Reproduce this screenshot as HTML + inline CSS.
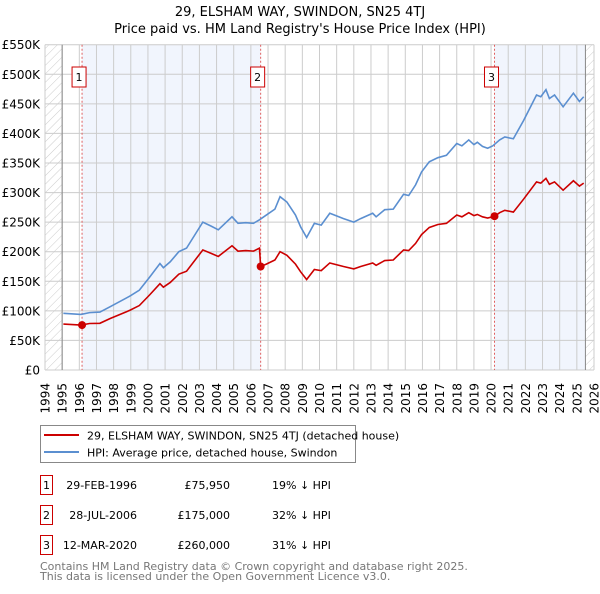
<!DOCTYPE html>
<html><head><meta charset="utf-8"><style>
body{margin:0;background:#fff;font-family:"DejaVu Sans","Liberation Sans",sans-serif;}
svg text{font-family:"DejaVu Sans","Liberation Sans",sans-serif;}
</style></head><body>
<svg id="chart" width="600" height="590" viewBox="0 0 600 590" xmlns="http://www.w3.org/2000/svg">
<defs><pattern id="hatch" patternUnits="userSpaceOnUse" width="6" height="6" patternTransform="rotate(45)"><line x1="0" y1="0" x2="0" y2="6" stroke="#ccc" stroke-width="1"/></pattern></defs>
<text x="300" y="16" text-anchor="middle" font-size="13">29, ELSHAM WAY, SWINDON, SN25 4TJ</text>
<text x="300" y="33" text-anchor="middle" font-size="13">Price paid vs. HM Land Registry's House Price Index (HPI)</text>
<g id="plot"></g>
<g>
<rect x="40.5" y="425.5" width="315" height="37" fill="#fff" stroke="#888"/>
<line x1="44" y1="435" x2="79" y2="435" stroke="#cc0000" stroke-width="2"/>
<text x="87" y="439.5" font-size="11">29, ELSHAM WAY, SWINDON, SN25 4TJ (detached house)</text>
<line x1="44" y1="452" x2="79" y2="452" stroke="#5b8fd0" stroke-width="2"/>
<text x="87" y="456.5" font-size="11">HPI: Average price, detached house, Swindon</text>
</g>
<g id="table" font-size="11"></g>
<text x="40" y="570" font-size="11" fill="#777">Contains HM Land Registry data © Crown copyright and database right 2025.</text>
<text x="40" y="580" font-size="11" fill="#777">This data is licensed under the Open Government Licence v3.0.</text>
</svg>
<script>
const yearTicks=[1994,1995,1996,1997,1998,1999,2000,2001,2002,2003,2004,2005,2006,2007,2008,2009,2010,2011,2012,2013,2014,2015,2016,2017,2018,2019,2020,2021,2022,2023,2024,2025,2026];
const valueTicks=[0,50,100,150,200,250,300,350,400,450,500,550];
const valueTickLabels=["£0","£50K","£100K","£150K","£200K","£250K","£300K","£350K","£400K","£450K","£500K","£550K"];
const hpiYears=[1995.07,1996.1,1996.6,1997.2,1997.8,1998.95,1999.5,2000.1,2000.7,2000.9,2001.3,2001.8,2002.25,2003.2,2003.7,2004.1,2004.9,2005.25,2005.7,2006.15,2006.5,2006.9,2007.4,2007.7,2008.1,2008.6,2008.9,2009.25,2009.7,2010.1,2010.6,2011.4,2012.0,2012.4,2013.1,2013.3,2013.8,2014.3,2014.9,2015.2,2015.6,2015.95,2016.4,2016.9,2017.4,2018.0,2018.3,2018.7,2019.0,2019.2,2019.5,2019.8,2020.1,2020.5,2020.8,2021.3,2021.9,2022.65,2022.9,2023.2,2023.4,2023.7,2024.2,2024.8,2025.15,2025.4];
const hpiValues=[95.8,94,97,98,107,125,135,157,180,173,183,200,206,250,243,237,259,248,249,248,254,262,272,293,284,262,242,224,248,245,265,256,250,256,265,259,271,272,297,295,313,335,352,359,363,383,379,389,381,385,378,375,379,389,394,391,422,465,462,474,459,465,445,468,454,462];
const priceYears=[1995.07,1996.1,1996.6,1997.2,1997.8,1998.95,1999.5,2000.1,2000.7,2000.9,2001.3,2001.8,2002.25,2003.2,2003.7,2004.1,2004.9,2005.25,2005.7,2006.15,2006.5,2006.57,2006.9,2007.4,2007.7,2008.1,2008.6,2008.9,2009.25,2009.7,2010.1,2010.6,2011.4,2012.0,2012.4,2013.1,2013.3,2013.8,2014.3,2014.9,2015.2,2015.6,2015.95,2016.4,2016.9,2017.4,2018.0,2018.3,2018.7,2019.0,2019.2,2019.5,2019.8,2020.2,2020.5,2020.8,2021.3,2021.9,2022.65,2022.9,2023.2,2023.4,2023.7,2024.2,2024.8,2025.15,2025.4];
const priceValues=[77.6,76,78.6,79,87,101,109,127,146,140,148,162,167,203,197,192,210,201,202,201,206,175,179,186,200,194,179,166,153,170,168,181,175,171,175,181,177,185,186,203,202,214,229,241,246,248,262,259,266,261,263,259,257,260,266,270,267,289,318,316,324,314,318,304,320,311,316];
const saleLabels=["1","2","3"];
const saleYears=[1996.16,2006.57,2020.2];
const salePrices=[75.95,175,260];
const saleDates=["29-FEB-1996","28-JUL-2006","12-MAR-2020"];
const salePriceText=["£75,950","£175,000","£260,000"];
const saleDiffText=["19% ↓ HPI","32% ↓ HPI","31% ↓ HPI"];

const X0=45,X1=594,Y0=370,Y1=44.7;
const xS=y=>X0+(y-1994)/(2026-1994)*(X1-X0);
const yS=v=>Y0-v/550*(Y0-Y1);
const NS="http://www.w3.org/2000/svg";
function mk(tag,attrs,parent){const e=document.createElementNS(NS,tag);for(const k in attrs)e.setAttribute(k,attrs[k]);parent.appendChild(e);return e;}
const plot=document.getElementById('plot');
const dataEnd=2025.5;
let r;
r=mk('rect',{x:xS(saleYears[0]),y:Y1,width:xS(saleYears[1])-xS(saleYears[0]),height:Y0-Y1,fill:'#eef3fc',opacity:0.8},plot);


r=mk('rect',{x:xS(saleYears[2]),y:Y1,width:xS(dataEnd)-xS(saleYears[2]),height:Y0-Y1,fill:'#eef3fc',opacity:0.8},plot);


r=mk('rect',{x:X0,y:Y1,width:xS(1995)-X0,height:Y0-Y1,fill:'url(#hatch)'},plot);


r=mk('rect',{x:xS(dataEnd),y:Y1,width:X1-xS(dataEnd),height:Y0-Y1,fill:'url(#hatch)'},plot);


yearTicks.forEach(y=>{const l=mk('line',{x1:xS(y),x2:xS(y),y1:Y1,y2:Y0,stroke:'#ccc','stroke-width':1},plot);


const t=mk('text',{x:0,y:0,transform:`translate(${xS(y)+4.5},${383}) rotate(-90)`,'text-anchor':'end','font-size':12},plot);t.textContent=y;

});
valueTicks.forEach((v,i)=>{const l=mk('line',{x1:X0,x2:X1,y1:yS(v),y2:yS(v),stroke:'#ccc','stroke-width':1},plot);


const t=mk('text',{x:40,y:yS(v)+4.5,'text-anchor':'end','font-size':12},plot);t.textContent=valueTickLabels[i];

});
let ax=mk('line',{x1:xS(1995),x2:xS(1995),y1:Y1,y2:Y0,stroke:'#888'},plot);


ax=mk('line',{x1:xS(dataEnd),x2:xS(dataEnd),y1:Y1,y2:Y0,stroke:'#888'},plot);


saleYears.forEach((y,i)=>{const l=mk('line',{x1:xS(y),x2:xS(y),y1:Y1,y2:Y0,stroke:'#e06060','stroke-width':1,'stroke-dasharray':'2,2'},plot);


const b=mk('rect',{x:xS(y)-7-3,y:67,width:14,height:20,fill:'#fff',stroke:'#cc0000'},plot);


const t=mk('text',{x:xS(y)-3,y:81,'text-anchor':'middle','font-size':11},plot);t.textContent=saleLabels[i];

});
const hp=mk('polyline',{points:hpiYears.map((y,i)=>xS(y)+','+yS(hpiValues[i])).join(' '),fill:'none',stroke:'#5b8fd0','stroke-width':1.6},plot);


const pp=mk('polyline',{points:priceYears.map((y,i)=>xS(y)+','+yS(priceValues[i])).join(' '),fill:'none',stroke:'#cc0000','stroke-width':1.6},plot);


saleYears.forEach((y,i)=>{const c=mk('circle',{cx:xS(y),cy:yS(salePrices[i]),r:4,fill:'#cc0000'},plot);

});
const tb=document.getElementById('table');
saleLabels.forEach((s,i)=>{const y=483+i*30;
const b=mk('rect',{x:40.5,y:y-7.5,width:12,height:19,fill:'#fff',stroke:'#cc0000'},tb);


let t=mk('text',{x:46.5,y:y+6,'text-anchor':'middle'},tb);t.textContent=s;


t=mk('text',{x:137,y:y+6,'text-anchor':'end'},tb);t.textContent=saleDates[i];


t=mk('text',{x:230,y:y+6,'text-anchor':'end'},tb);t.textContent=salePriceText[i];


t=mk('text',{x:272,y:y+6},tb);t.textContent=saleDiffText[i];

});
</script>
</body></html>
